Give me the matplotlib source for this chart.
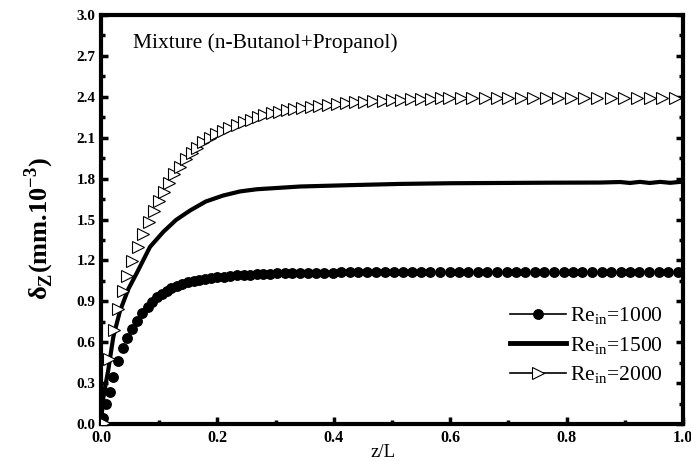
import matplotlib
matplotlib.use("Agg")
from matplotlib import pyplot as plt
from matplotlib.lines import Line2D
from matplotlib.ticker import MultipleLocator, FormatStrFormatter

plt.rcParams['font.family'] = ['Liberation Serif', 'DejaVu Serif']
plt.rcParams['mathtext.fontset'] = 'custom'
plt.rcParams['mathtext.rm'] = 'Liberation Serif'
plt.rcParams['mathtext.bf'] = 'Liberation Serif:bold'

# Re_in = 1000 (filled circles)
z_1000 = [0.003, 0.009, 0.015, 0.021, 0.029, 0.037, 0.045, 0.054, 0.062, 0.071,
          0.080, 0.088, 0.096, 0.105, 0.113, 0.121, 0.130, 0.140, 0.149, 0.159,
          0.168, 0.179, 0.189, 0.200, 0.211, 0.222, 0.233, 0.245, 0.256, 0.268,
          0.278, 0.290, 0.303, 0.316, 0.329, 0.342, 0.356, 0.369, 0.383, 0.398,
          0.412, 0.427, 0.442, 0.457, 0.473, 0.488, 0.503, 0.519, 0.534, 0.550,
          0.566, 0.582, 0.599, 0.615, 0.631, 0.648, 0.664, 0.680, 0.697, 0.713,
          0.729, 0.746, 0.762, 0.778, 0.795, 0.811, 0.827, 0.844, 0.860, 0.876,
          0.893, 0.909, 0.925, 0.942, 0.958, 0.974, 0.991]
d_1000 = [0.044, 0.147, 0.235, 0.345, 0.462, 0.555, 0.633, 0.695, 0.759, 0.814,
          0.858, 0.895, 0.928, 0.957, 0.979, 0.998, 1.012, 1.027, 1.038, 1.049,
          1.056, 1.064, 1.071, 1.076, 1.081, 1.086, 1.090, 1.093, 1.096, 1.098,
          1.101, 1.103, 1.104, 1.106, 1.107, 1.108, 1.109, 1.110, 1.110, 1.111,
          1.112, 1.112, 1.113, 1.113, 1.114, 1.114, 1.115, 1.115, 1.116, 1.116,
          1.116, 1.117, 1.117, 1.117, 1.117, 1.117, 1.118, 1.118, 1.118, 1.118,
          1.118, 1.118, 1.118, 1.118, 1.118, 1.118, 1.118, 1.118, 1.118, 1.118,
          1.118, 1.118, 1.118, 1.118, 1.118, 1.118, 1.118]

# Re_in = 1500 (solid line)
z_1500 = [0.0, 0.0034, 0.0077, 0.0125, 0.0211, 0.0326, 0.047, 0.0613, 0.0842, 0.107,
          0.129, 0.153, 0.180, 0.210, 0.239, 0.268, 0.342, 0.428, 0.514, 0.600,
          0.686, 0.771, 0.857, 0.892, 0.909, 0.926, 0.943, 0.961, 0.978, 1.0]
d_1500 = [0.0, 0.176, 0.286, 0.396, 0.638, 0.829, 0.990, 1.106, 1.299, 1.409,
          1.497, 1.566, 1.632, 1.676, 1.706, 1.722, 1.742, 1.752, 1.761, 1.766,
          1.768, 1.770, 1.771, 1.775, 1.768, 1.776, 1.768, 1.776, 1.769, 1.778]

# Re_in = 2000 (open triangles)
z_2000 = [0.005, 0.014, 0.022, 0.029, 0.037, 0.045, 0.053, 0.063, 0.072, 0.083,
          0.091, 0.100, 0.108, 0.117, 0.126, 0.136, 0.146, 0.156, 0.165, 0.176,
          0.187, 0.198, 0.209, 0.220, 0.233, 0.245, 0.257, 0.269, 0.280, 0.293,
          0.306, 0.319, 0.332, 0.346, 0.361, 0.375, 0.390, 0.405, 0.421, 0.436,
          0.452, 0.467, 0.484, 0.500, 0.516, 0.533, 0.550, 0.567, 0.584, 0.598,
          0.618, 0.638, 0.659, 0.680, 0.700, 0.721, 0.743, 0.764, 0.786, 0.808,
          0.830, 0.853, 0.876, 0.899, 0.921, 0.944, 0.964, 0.986]
d_2000 = [0.007, 0.477, 0.690, 0.844, 0.972, 1.086, 1.196, 1.299, 1.394, 1.484,
          1.563, 1.636, 1.704, 1.766, 1.832, 1.888, 1.942, 1.986, 2.027, 2.067,
          2.101, 2.125, 2.150, 2.174, 2.194, 2.213, 2.233, 2.250, 2.267, 2.280,
          2.291, 2.304, 2.309, 2.316, 2.326, 2.333, 2.340, 2.348, 2.354, 2.359,
          2.364, 2.368, 2.372, 2.376, 2.379, 2.382, 2.384, 2.387, 2.389, 2.390,
          2.391, 2.391, 2.392, 2.392, 2.392, 2.393, 2.393, 2.393, 2.393, 2.393,
          2.393, 2.393, 2.394, 2.394, 2.394, 2.394, 2.394, 2.394]

labels = ["Re$_{\\mathrm{in}}$=1000", "Re$_{\\mathrm{in}}$=1500", "Re$_{\\mathrm{in}}$=2000"]

fig = plt.figure(figsize=(6.91, 4.61), dpi=100)
ax = fig.add_axes([101 / 691, 1 - 424 / 461, 582 / 691, 409 / 461])

ax.plot(z_1000, d_1000, linestyle='none', marker='o', ms=6.8, color='black', zorder=3)
ax.plot(z_1500, d_1500, '-', lw=3, color='black', solid_capstyle='round', zorder=2)
ax.plot(z_2000, d_2000, linestyle='none', marker='>', ms=8, mfc='white', mec='black',
        mew=0.8, zorder=4)

ax.set_xlim(0, 1.0)
ax.set_ylim(0, 3.0)
ax.xaxis.set_major_locator(MultipleLocator(0.2))
ax.xaxis.set_minor_locator(MultipleLocator(0.1))
ax.yaxis.set_major_locator(MultipleLocator(0.3))
ax.yaxis.set_minor_locator(MultipleLocator(0.15))
ax.xaxis.set_major_formatter(FormatStrFormatter('%.1f'))
ax.yaxis.set_major_formatter(FormatStrFormatter('%.1f'))

for s in ax.spines.values():
    s.set_linewidth(3)
ax.tick_params(which='major', direction='in', length=5, width=2.5, pad=4)
ax.tick_params(which='minor', direction='in', length=3, width=2.5)
ax.tick_params(axis='y', which='both', right=True, labelright=False)
for lab in ax.get_xticklabels():
    lab.set_fontweight('bold')
    lab.set_fontsize(11.5)
for lab in ax.get_yticklabels():
    lab.set_fontweight('bold')
    lab.set_fontsize(11)

fig.text(39 / 691, 1 - 228 / 461, "δ$_{\\mathbf{Z}}$(mm.10$^{\\mathbf{-3}}$)",
         rotation=90, ha='center', va='center', fontsize=19, fontweight='bold')
fig.text(383 / 691, 1 - 452 / 461, "z/L", ha='center', va='center', fontsize=13.5)
ax.text(0.055, 0.932, "Mixture (n-Butanol+Propanol)", transform=ax.transAxes,
        ha='left', va='center', fontsize=15.5)

handles = [
    Line2D([], [], color='black', lw=1.2, marker='o', ms=6.8),
    Line2D([], [], color='black', lw=3.5),
    Line2D([], [], color='black', lw=1.2, marker='>', ms=8, mfc='white', mew=0.8),
]
ax.legend(handles, labels, loc='lower right', bbox_to_anchor=(0.988, 0.062),
          frameon=False, fontsize=15.5, handlelength=2.6, handletextpad=0.2,
          labelspacing=0.35, numpoints=1, borderaxespad=0.2)

plt.savefig("out.png", dpi=100)
